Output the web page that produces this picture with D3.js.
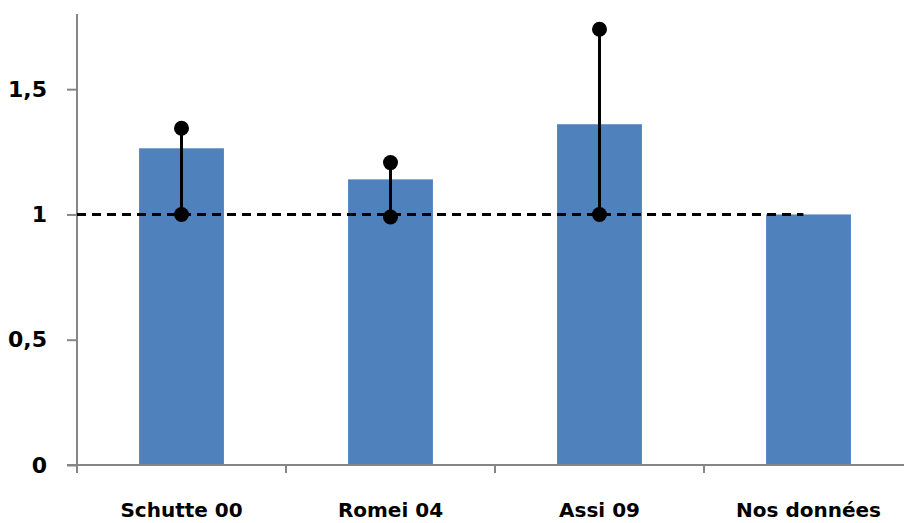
<!DOCTYPE html>
<html><head><meta charset="utf-8">
<script src="https://cdn.jsdelivr.net/npm/d3@7"></script>
<style>body{margin:0;background:#fff;} svg{display:block;}</style>
</head><body>
<svg id="chart" width="904" height="523"></svg>
<script>
const categories = ["Schutte 00", "Romei 04", "Assi 09", "Nos données"];
const barValues = [1.264, 1.14, 1.36, 1.0];
const errLow = [1.0, 0.99, 1.0, null];
const errHigh = [1.344, 1.207, 1.739, null];
const refValue = 1;
const yTicks = [0, 0.5, 1, 1.5];
const yTickLabels = ["0", "0,5", "1", "1,5"];

(function () {
const svg = d3.select("#chart");
const mLeft = 77, mRight = 913, mTop = 14, mBottom = 465;
const x = d3.scaleBand().domain(categories).range([mLeft, mRight]).paddingInner(0.594).paddingOuter(0.297);
const y = d3.scaleLinear().domain([0, 1.8]).range([mBottom, mTop]);
const axisColor = "#868686";
const font = "'DejaVu Sans', sans-serif";

// bars
svg.append("g").selectAll("rect").data(categories).join("rect")
  .attr("x", d => x(d)).attr("width", x.bandwidth())
  .attr("y", (d,i) => y(barValues[i])).attr("height", (d,i) => mBottom - y(barValues[i]))
  .attr("fill", "#4F81BD");

// y axis
const yAxis = d3.axisLeft(y).tickValues(yTicks).tickFormat((d,i) => yTickLabels[i]).tickSize(10).tickPadding(20);
const gy = svg.append("g").attr("transform", `translate(${mLeft},0)`).call(yAxis);
gy.select(".domain").remove();
gy.append("line").attr("x1", 0).attr("x2", 0).attr("y1", mTop).attr("y2", mBottom + 8).attr("stroke", axisColor).attr("stroke-width", 2);
gy.selectAll(".tick line").attr("stroke", axisColor).attr("stroke-width", 2);
gy.selectAll(".tick text").attr("font-family", font).attr("font-size", 22).attr("font-weight", 700).attr("fill", "#000");

// x axis
const step = x.step();
const boundaries = d3.range(categories.length + 1).map(i => mLeft + i * step);
svg.append("line").attr("x1", mLeft - 10).attr("x2", mRight).attr("y1", mBottom).attr("y2", mBottom).attr("stroke", axisColor).attr("stroke-width", 2);
svg.append("g").selectAll("line").data(boundaries).join("line")
  .attr("x1", d => d).attr("x2", d => d).attr("y1", mBottom).attr("y2", mBottom + 8)
  .attr("stroke", axisColor).attr("stroke-width", 2);
svg.append("g").selectAll("text").data(categories).join("text")
  .attr("x", d => x(d) + x.bandwidth() / 2).attr("y", 517)
  .attr("text-anchor", "middle").attr("font-family", font).attr("font-size", 20).attr("font-weight", 700)
  .attr("fill", "#000").text(d => d);

// dashed reference line
svg.append("line").attr("x1", mLeft).attr("x2", x(categories[3]) + x.bandwidth() * 0.44)
  .attr("y1", y(refValue)).attr("y2", y(refValue))
  .attr("stroke", "#000").attr("stroke-width", 3).attr("stroke-dasharray", "9,6");

// error bars
const eg = svg.append("g");
categories.forEach((c, i) => {
  if (errLow[i] == null) return;
  const cx = x(c) + x.bandwidth() / 2;
  eg.append("line").attr("x1", cx).attr("x2", cx).attr("y1", y(errLow[i])).attr("y2", y(errHigh[i]))
    .attr("stroke", "#000").attr("stroke-width", 3);
  [errLow[i], errHigh[i]].forEach(v => {
    eg.append("circle").attr("cx", cx).attr("cy", y(v)).attr("r", 7.5).attr("fill", "#000");
  });
});
})();
</script>
</body></html>
